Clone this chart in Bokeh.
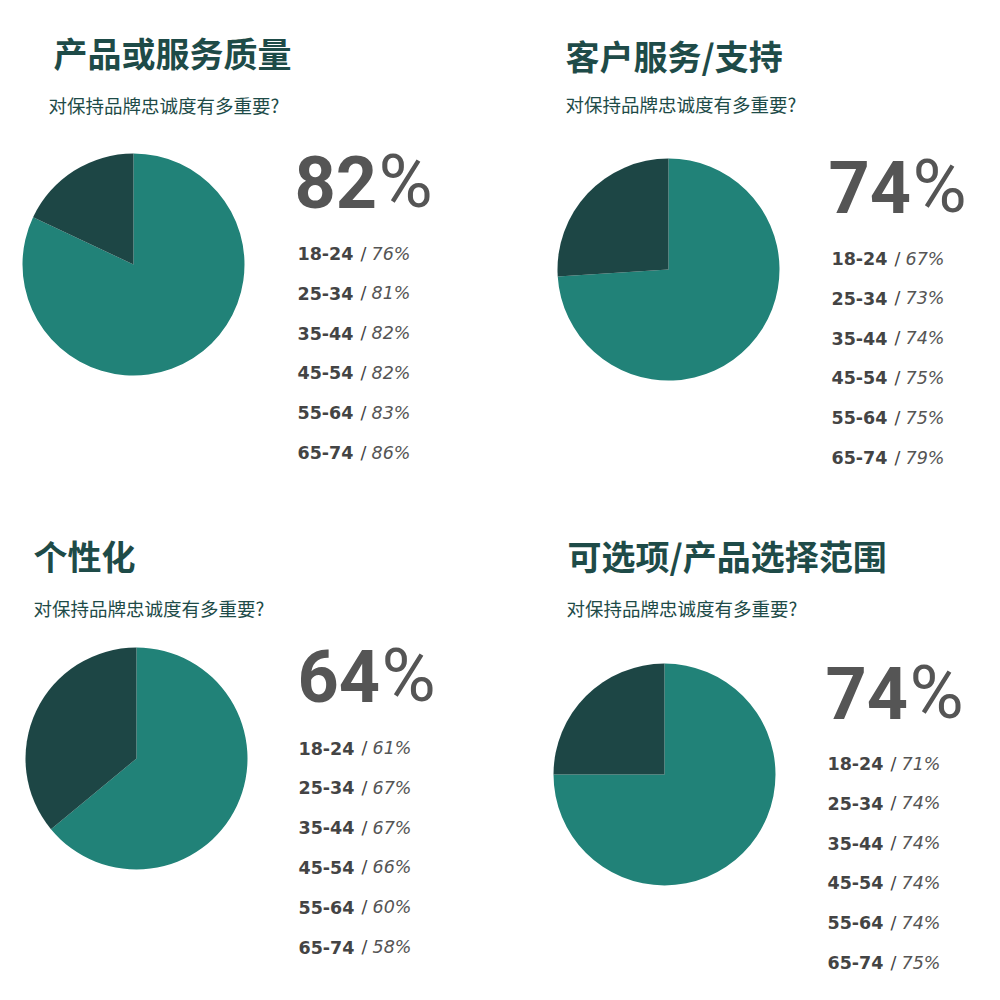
from bokeh.plotting import figure
from bokeh.models import Range1d, ColumnDataSource
from bokeh.core.properties import value
from bokeh.embed import file_html
from bokeh.resources import INLINE

# ---------------- data ----------------
titles = ["产品或服务质量", "客户服务/支持", "个性化", "可选项/产品选择范围"]
subtitle = "对保持品牌忠诚度有多重要?"
overall = [82, 74, 64, 74]          # headline share (%)
pie_share = [82, 74, 64, 75]        # share drawn by each pie (%)
age_groups = ["18-24", "25-34", "35-44", "45-54", "55-64", "65-74"]
by_age_quality = [76, 81, 82, 82, 83, 86]
by_age_service = [67, 73, 74, 75, 75, 79]
by_age_personal = [61, 67, 67, 66, 60, 58]
by_age_choice = [71, 74, 74, 74, 74, 75]
by_age = [by_age_quality, by_age_service, by_age_personal, by_age_choice]

# ---------------- layout (screen px) ----------------
W = H = 984
title_xy = [(53, 52), (565, 55), (33, 555), (567, 555)]
sub_xy = [(48, 104), (565, 103), (33, 607), (566, 607)]
pie_c = [(133, 264), (668, 269), (136, 758), (664, 774)]
pie_r = 111
big_xy = [(294, 181), (828, 186), (297, 675), (825, 692)]   # cap centre
rows_xy = [(297, 253), (831, 258), (298, 747.5), (827, 763)]  # first row centre
row_step = 39.8

TEAL = "#218278"
DARK = "#1D4645"
TITLE_C = "#1E4B48"
NUM_C = "#555555"
AGE_C = "#444444"


def X(px):
    return px


def Y(py):
    return H - py


p = figure(width=W, height=H, output_backend="svg", toolbar_location=None,
           x_range=Range1d(0, W), y_range=Range1d(0, H),
           min_border=0, outline_line_color=None)
p.axis.visible = False
p.grid.visible = False
p.background_fill_color = "white"

for i in range(4):
    cx, cy = pie_c[i]
    share = pie_share[i] / 100.0
    # teal part clockwise from 12 o'clock, dark remainder
    src = ColumnDataSource(dict(
        x=[X(cx), X(cx)], y=[Y(cy), Y(cy)],
        start=[90 - share * 360, 90],
        end=[90, 450 - share * 360],
        color=[TEAL, DARK]))
    p.wedge(x="x", y="y", radius=pie_r, radius_units="screen",
            start_angle="start", end_angle="end", start_angle_units="deg",
            end_angle_units="deg", fill_color="color", line_color=None,
            source=src)

    tx, ty = title_xy[i]
    p.text(x=[X(tx)], y=[Y(ty)], text=[titles[i]],
           text_font=value("Noto Sans CJK SC"), text_font_style="bold",
           text_font_size="34px", text_color=TITLE_C,
           text_baseline="middle", text_align="left")
    sx, sy = sub_xy[i]
    p.text(x=[X(sx)], y=[Y(sy)], text=[subtitle],
           text_font=value("Noto Sans CJK SC"),
           text_font_size="18.5px", text_color=TITLE_C,
           text_baseline="middle", text_align="left")

    bx, by = big_xy[i]
    p.text(x=[X(bx)], y=[Y(by)], text=[str(overall[i])],
           text_font=value("Roboto"), text_font_style="bold",
           text_font_size="72px", text_color=NUM_C,
           text_baseline="middle", text_align="left")
    p.text(x=[X(bx + 84)], y=[Y(by)], text=["%"],
           text_font=value("Roboto"),
           text_font_size="74px", text_color=NUM_C,
           text_baseline="middle", text_align="left")

    rx, ry = rows_xy[i]
    ys = [Y(ry + k * row_step) for k in range(len(age_groups))]
    vals = [f"{v}%" for v in by_age[i]]
    p.text(x=[X(rx)] * len(ys), y=ys, text=age_groups,
           text_font=value("DejaVu Sans"), text_font_style="bold",
           text_font_size="17.5px", text_color=AGE_C,
           text_baseline="middle", text_align="left")
    p.text(x=[X(rx + 63)] * len(ys), y=ys, text=["/"] * len(ys),
           text_font=value("DejaVu Sans"),
           text_font_size="17.5px", text_color=AGE_C,
           text_baseline="middle", text_align="left")
    p.text(x=[X(rx + 74)] * len(ys), y=ys, text=vals,
           text_font=value("DejaVu Sans"), text_font_style="italic",
           text_font_size="17.5px", text_color=NUM_C,
           text_baseline="middle", text_align="left")

open("out.html", "w").write(file_html(p, INLINE))
